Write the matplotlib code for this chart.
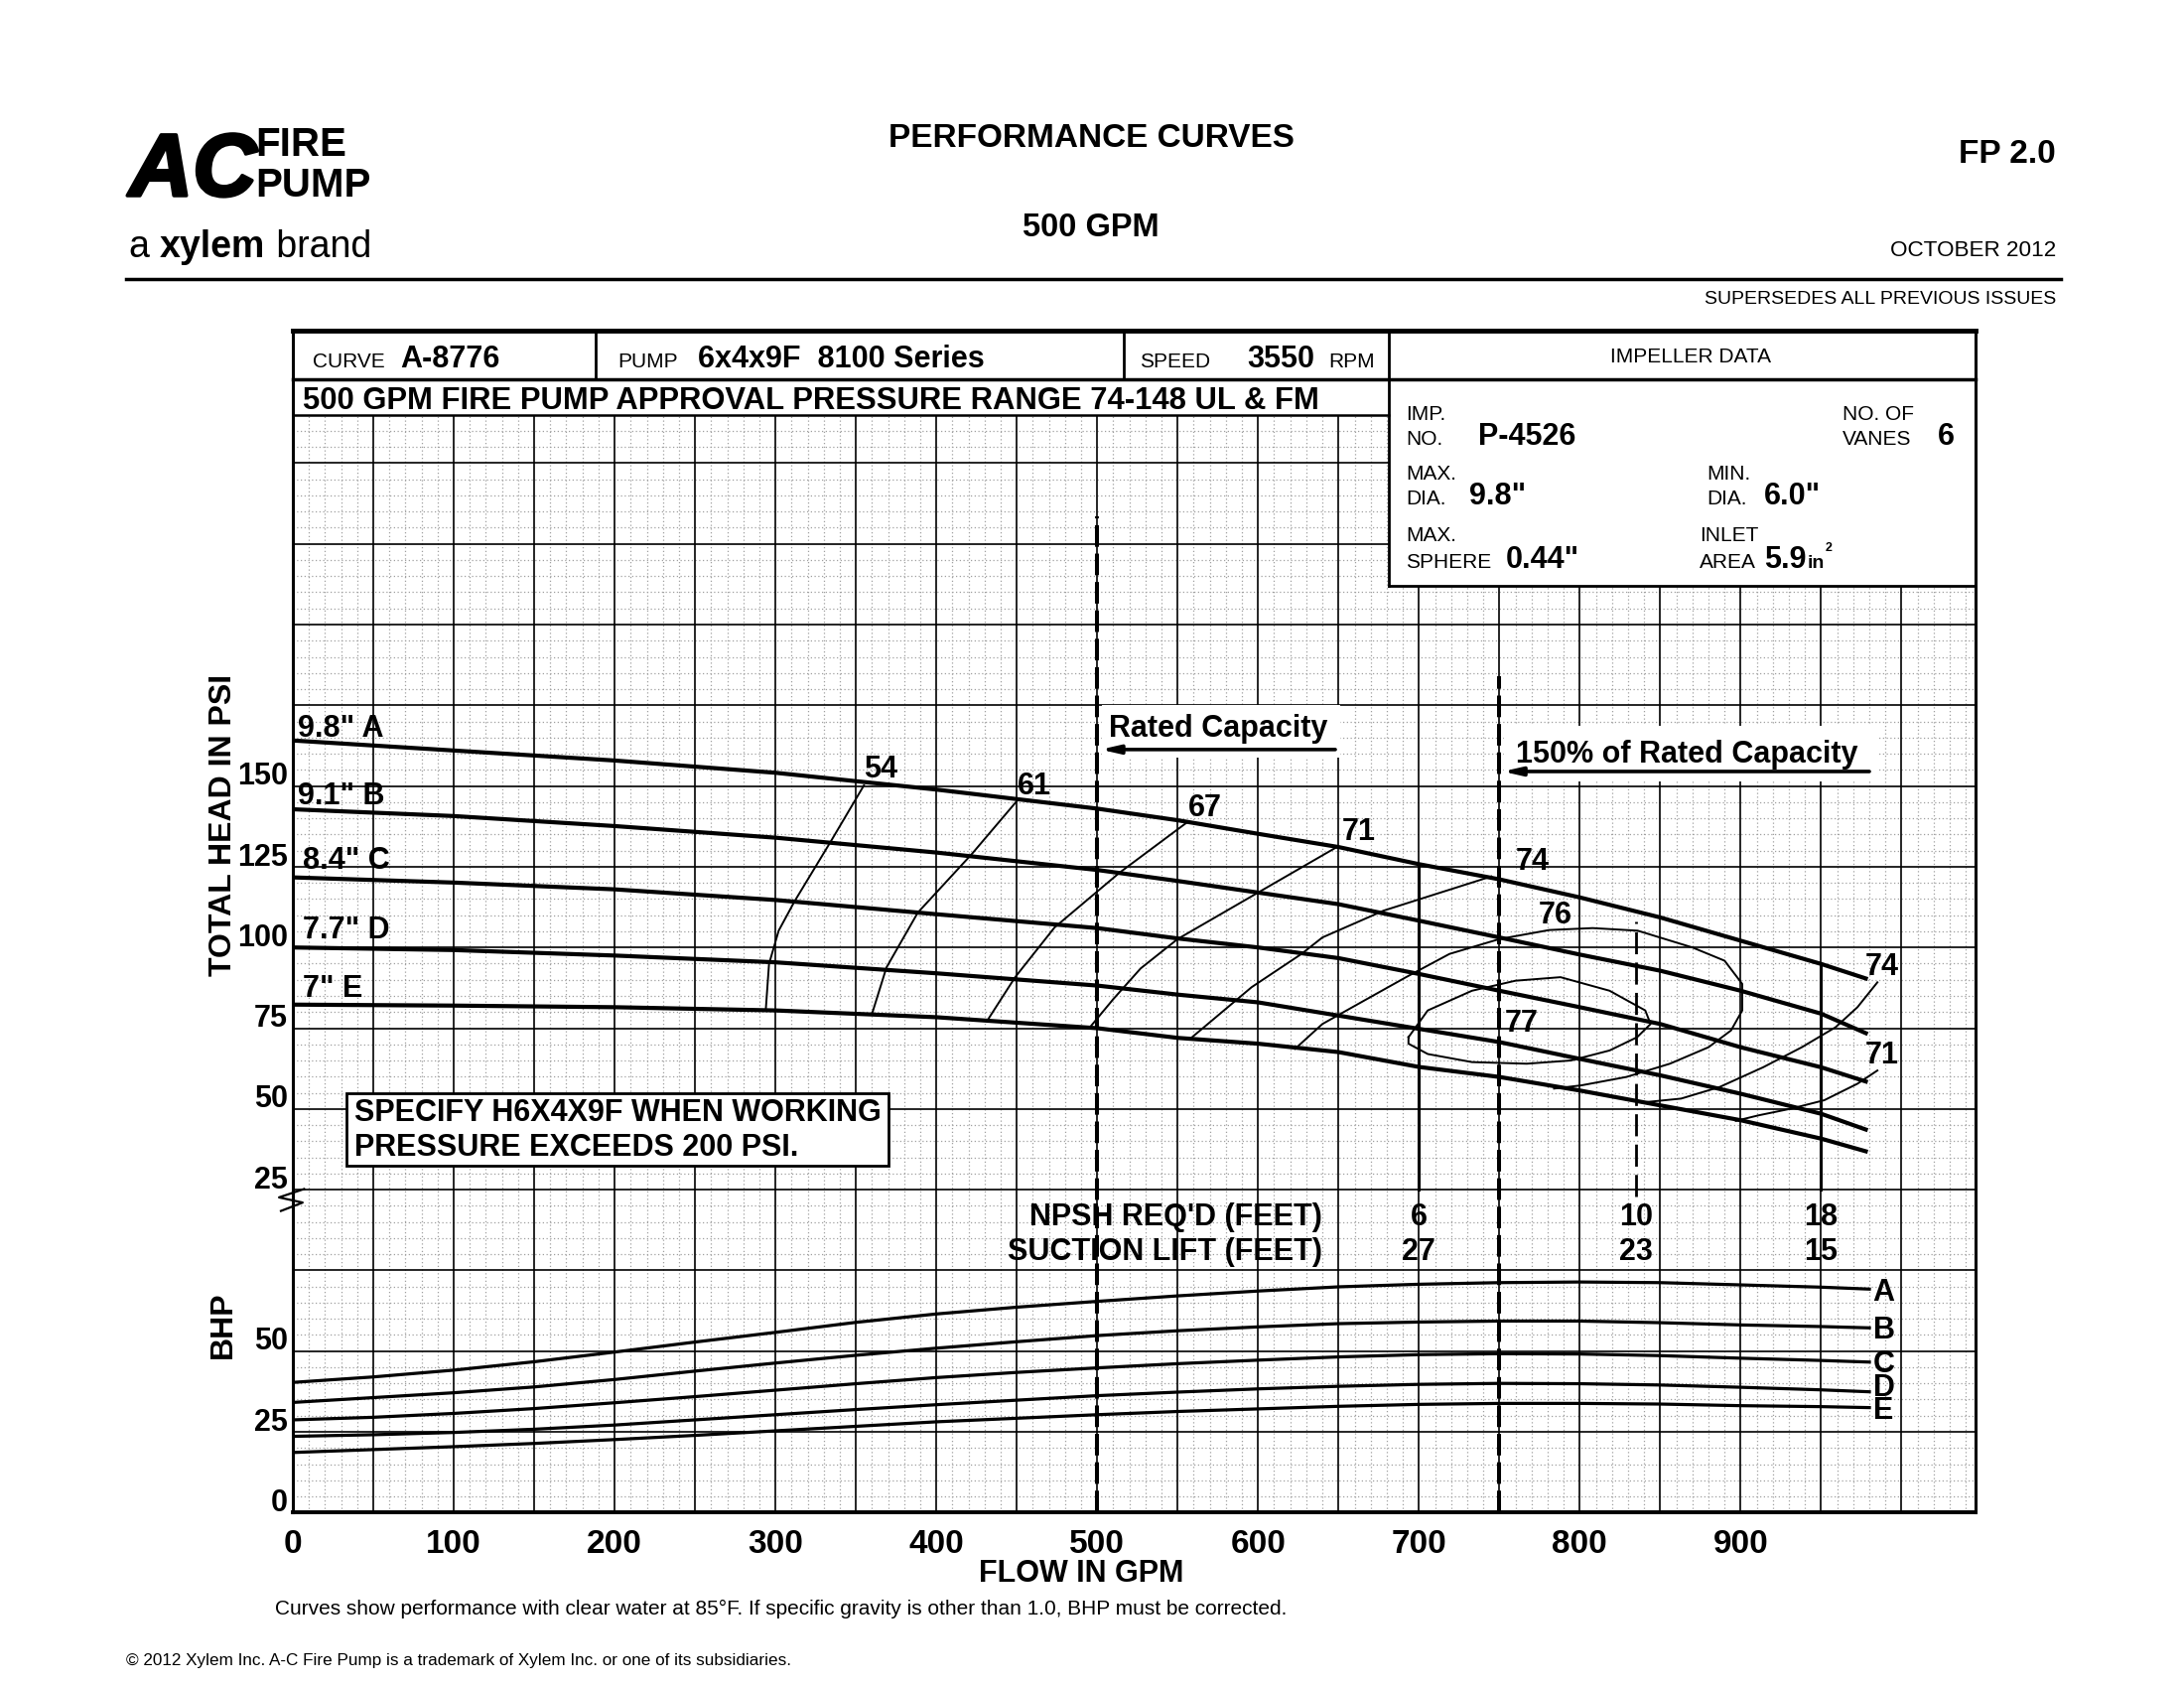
import matplotlib
matplotlib.use("Agg")
import matplotlib.pyplot as plt
import matplotlib.patheffects as pe
from matplotlib.lines import Line2D
from matplotlib.patches import Rectangle

# total head (psi) vs flow (gpm) for the five impeller diameters
flow = [0, 100, 200, 300, 400, 500, 550, 600, 650, 700, 750, 800, 850, 900, 950, 979]
head_a = [164.1, 161.0, 157.9, 154.1, 148.9, 143.0, 139.4, 135.2, 131.1, 125.8, 121.1, 115.5, 109.3, 102.1, 94.9, 90.2]
head_b = [142.8, 140.7, 137.6, 134.0, 129.4, 124.0, 120.6, 117.0, 113.4, 108.3, 103.1, 97.8, 92.8, 86.6, 79.5, 73.2]
head_c = [121.7, 120.1, 118.0, 114.7, 110.3, 106.0, 102.8, 100.0, 96.7, 91.8, 86.6, 81.5, 76.3, 69.1, 62.9, 58.3]
head_d = [100.0, 99.2, 97.5, 95.4, 92.0, 88.2, 85.4, 83.0, 78.9, 74.8, 70.7, 65.5, 60.4, 54.7, 48.5, 43.4]
head_e = [82.3, 82.0, 81.5, 80.5, 78.4, 75.0, 72.0, 70.2, 67.6, 63.0, 59.9, 55.7, 51.1, 46.5, 40.8, 36.7]
curve_names = ['9.8" A', '9.1" B', '8.4" C', '7.7" D', '7" E']

# efficiency lines (gpm, psi)
eff54_flow = [355, 334, 312, 302, 296, 294]
eff54_psi = [150.2, 132.5, 114.4, 105.2, 94.9, 80.8]
eff61_flow = [451, 422, 388.5, 369, 360]
eff61_psi = [145.9, 128.9, 110.8, 93.8, 79.4]
eff67_flow = [556, 514, 473.5, 449, 432]
eff67_psi = [138.8, 123.2, 106.2, 90.8, 77.6]
eff71_flow = [649, 600, 550, 527, 510, 495]
eff71_psi = [131.1, 117.0, 102.6, 93.5, 84.0, 75.0]
eff74_flow = [745, 678, 640, 627, 596, 558]
eff74_psi = [122.0, 111.4, 103.1, 98.0, 87.7, 71.8]
eff76_flow = [623, 640, 664, 692, 719, 750, 781, 808, 836, 870, 890, 901, 901, 894, 880, 856, 829, 801, 784]
eff76_psi = [68.6, 76.3, 83.0, 90.8, 98.0, 102.6, 105.4, 106.0, 105.2, 100.0, 95.9, 88.7, 80.5, 74.3, 69.1, 64.0, 59.9, 57.3, 56.3]
eff77_flow = [693.5, 705.5, 733, 760, 788, 818.5, 840.7, 844, 835.6, 818.5, 794.5, 767, 733, 705.5, 693.5, 693.5]
eff77_psi = [72.2, 80.5, 86.6, 89.7, 90.8, 86.6, 80.5, 76.3, 72.2, 68.1, 65.0, 64.0, 64.5, 67.0, 70.2, 72.2]
eff74r_flow = [985, 972.6, 959, 938, 914, 887, 863, 839]
eff74r_psi = [89.2, 81.5, 75.3, 69.1, 62.9, 56.8, 53.2, 52.0]
eff71r_flow = [985, 972.6, 952, 931.5, 911, 897]
eff71r_psi = [61.9, 57.8, 52.7, 50.1, 48.0, 46.3]
eff_labels = ["54", "61", "67", "71", "74", "76", "77", "74", "71"]

# brake horsepower
bhp_flow = [0, 50, 100, 150, 200, 250, 300, 350, 400, 450, 500, 550, 600, 650, 700, 750, 800, 850, 900, 950, 980]
bhp_a = [40.3, 42.0, 44.1, 46.7, 49.7, 52.8, 55.8, 58.9, 61.5, 63.6, 65.4, 67.1, 68.6, 69.9, 70.7, 71.2, 71.4, 71.2, 70.5, 69.8, 69.2]
bhp_b = [34.1, 35.6, 37.1, 38.9, 41.2, 43.8, 46.3, 48.7, 50.9, 52.9, 54.8, 56.3, 57.5, 58.5, 59.0, 59.3, 59.3, 58.8, 58.1, 57.6, 57.2]
bhp_c = [28.7, 29.5, 30.7, 32.2, 34.0, 35.9, 37.9, 39.9, 41.8, 43.4, 44.8, 46.1, 47.2, 48.2, 48.9, 49.2, 49.1, 48.6, 47.8, 47.1, 46.6]
bhp_d = [23.6, 24.1, 24.8, 25.8, 27.1, 28.7, 30.3, 31.9, 33.4, 34.8, 36.2, 37.3, 38.3, 39.1, 39.7, 40.0, 39.9, 39.5, 38.8, 38.0, 37.4]
bhp_e = [18.6, 19.5, 20.4, 21.4, 22.6, 23.9, 25.3, 26.7, 28.1, 29.2, 30.3, 31.3, 32.1, 32.9, 33.5, 33.8, 33.8, 33.6, 33.1, 32.8, 32.5]
bhp_names = ["A", "B", "C", "D", "E"]

npsh_flow = [700, 835, 950]
npsh_req = ["6", "10", "18"]
suction_lift = ["27", "23", "15"]

psi_ticks = [25, 50, 75, 100, 125, 150]
bhp_ticks = [0, 25, 50]
gpm_ticks = [0, 100, 200, 300, 400, 500, 600, 700, 800, 900]

PSI0 = 75  # psi scale sits 75 bhp-units up the same grid


def hy(vals):
    return [v + PSI0 for v in vals]


SANS = "Liberation Sans"
W, H = 2200, 1700
fig = plt.figure(figsize=(22, 17), dpi=100)
fig.patch.set_facecolor("white")
renderer = fig.canvas.get_renderer()


def ftext(px, py, s, size, bold=False, **kw):
    kw.setdefault("family", SANS)
    return fig.text(px / W, 1 - py / H, s, fontsize=size, fontweight="bold" if bold else "normal", **kw)


# page header / logo
ftext(130, 197, "AC", 64, True, style="italic", va="baseline",
      path_effects=[pe.withStroke(linewidth=2.5, foreground="k")])
ftext(257, 157, "FIRE", 29, True, va="baseline")
ftext(257, 198, "PUMP", 29, True, va="baseline")
x = 130
for word, bold in [("a ", False), ("xylem", True), (" brand", False)]:
    tx = ftext(x, 259, word, 27, bold, va="baseline")
    x += tx.get_window_extent(renderer).width
ftext(1099, 139, "PERFORMANCE CURVES", 24, True, ha="center", va="center")
ftext(1099, 229, "500 GPM", 23.5, True, ha="center", va="center")
ftext(2071, 155, "FP 2.0", 24, True, ha="right", va="center")
ftext(2071, 253, "OCTOBER 2012", 16.2, ha="right", va="center")
ftext(2071, 302, "SUPERSEDES ALL PREVIOUS ISSUES", 14, ha="right", va="center")
fig.add_artist(Line2D([127 / W, 2076 / W], [1 - 281 / H] * 2, lw=2.5, color="k"))
ftext(277, 1620, "Curves show performance with clear water at 85°F. If specific gravity is other than 1.0, "
      "BHP must be corrected.", 15, va="center")
ftext(127, 1672, "© 2012 Xylem Inc. A-C Fire Pump is a trademark of Xylem Inc. or one of its subsidiaries.",
      12.3, va="center")

# chart area: x in gpm, y in bhp units (psi = y - 75)
XMAX, YTOP, GRIDTOP = 1046, 366, 340
ax = fig.add_axes([295 / W, 1 - 1523.3 / H, 1695 / W, YTOP * 3.252 / H])
ax.set_xlim(0, XMAX)
ax.set_ylim(0, YTOP)
ax.axis("off")

minor = dict(color="#a0a0a0", lw=0.9, ls=(0, (1, 2)), zorder=1)
for gx in range(10, XMAX, 10):
    if gx % 50:
        ax.plot([gx, gx], [0, GRIDTOP], **minor)
for gy in range(5, GRIDTOP, 5):
    if gy % 25:
        ax.plot([0, XMAX], [gy, gy], **minor)
for gx in range(50, 1001, 50):
    ax.plot([gx, gx], [0, GRIDTOP], color="k", lw=1.2, zorder=2)
for gy in range(25, 326, 25):
    ax.plot([0, XMAX], [gy, gy], color="k", lw=1.2, zorder=2)

# header boxes
k = dict(color="k", zorder=6, clip_on=False)
ax.add_patch(Rectangle((0, GRIDTOP), XMAX, YTOP - GRIDTOP, fc="white", ec="none", zorder=5))
ax.add_patch(Rectangle((681, 287), XMAX - 681, YTOP - 287, fc="white", ec="none", zorder=5))
ax.plot([0, XMAX], [351, 351], lw=2.5, **k)
ax.plot([0, 681], [GRIDTOP, GRIDTOP], lw=1.8, **k)
ax.plot([681, 681], [287, YTOP], lw=2, **k)
ax.plot([681, XMAX], [287, 287], lw=2, **k)
ax.plot([188, 188], [351, YTOP], lw=2, **k)
ax.plot([516.5, 516.5], [351, YTOP], lw=2, **k)
ax.plot([0, 0, XMAX, XMAX], [0, YTOP, YTOP, 0], lw=2.2, **k)
ax.plot([0, XMAX], [YTOP, YTOP], lw=3.5, **k)
ax.plot([0, XMAX], [0, 0], lw=2.8, **k)


def t(x, y, s, size=22, bold=True, **kw):
    kw.setdefault("ha", "left")
    kw.setdefault("va", "baseline")
    kw.setdefault("family", SANS)
    kw.setdefault("zorder", 8)
    return ax.text(x, y, s, fontsize=size, fontweight="bold" if bold else "normal", clip_on=False, **kw)


def t_after(prev, dx, dy, s, size, bold=True):
    # place a text right after another one (same baseline + dy)
    bb = prev.get_window_extent(renderer)
    x1 = ax.transData.inverted().transform((bb.x1, bb.y0))[0]
    return t(x1 + dx, prev.get_position()[1] + dy, s, size, bold)


t(12.3, 354.5, "CURVE", 15, False)
t(66.9, 354.5, "A-8776")
t(201.7, 354.5, "PUMP", 15, False)
t(252, 354.5, "6x4x9F  8100 Series")
t(526.5, 354.5, "SPEED", 15, False)
t(593.5, 354.5, "3550")
t(643.5, 354.5, "RPM", 15, False)
t(869, 357.8, "IMPELLER DATA", 15, False, ha="center", va="center")
t(6, 341.6, "500 GPM FIRE PUMP APPROVAL PRESSURE RANGE 74-148 UL & FM", 22.3)

t(692, 338.3, "IMP.", 15, False)
t(692, 330.6, "NO.", 15, False)
t(737, 330.6, "P-4526")
t(963.5, 338.3, "NO. OF", 15, False)
t(963.5, 330.6, "VANES", 15, False)
t(1022.5, 330.6, "6")
t(692, 319.8, "MAX.", 15, False)
t(692, 312.1, "DIA.", 15, False)
t(731, 312.1, '9.8"')
t(879, 319.8, "MIN.", 15, False)
t(879, 312.1, "DIA.", 15, False)
t(914.5, 312.1, '6.0"')
t(692, 300.8, "MAX.", 15, False)
t(692, 292.6, "SPHERE", 15, False)
t(754, 292.6, '0.44"')
t(874.5, 300.8, "INLET", 15, False)
t(874.5, 292.6, "AREA", 15, False)
v59 = t(914.5, 292.6, "5.9")
v_in = t_after(v59, 0.5, 0, "in", 14)
t_after(v_in, 0.8, 5.2, "2", 9)

# axis labels and tick labels
for p in psi_ticks:
    t(-3, p + PSI0 + 0.4, str(p), 22, ha="right")
for b in bhp_ticks:
    t(-3, b + 0.4, str(b), 22, ha="right")
for g in gpm_ticks:
    t(g, -5, str(g), 24, ha="center", va="top")
t(-43, 213, "TOTAL HEAD IN PSI", 23, rotation=90, ha="center", va="center")
t(-43, 58, "BHP", 23, rotation=90, ha="center", va="center")
t(490, -19, "FLOW IN GPM", 22, ha="center", va="center")
ax.plot([7, -8.6, 6.1, -7.4], [100.2, 97.6, 96.0, 93.4], color="k", lw=1.6, clip_on=False, zorder=7)

# rated capacity markers
ax.plot([500, 500], [0, 308.5], color="k", lw=2.9, ls=(0, (5.4, 1.7)), zorder=4)
ax.plot([750, 750], [0, 259], color="k", lw=2.9, ls=(0, (5.4, 1.7)), zorder=4)
ax.add_patch(Rectangle((503, 233.7), 148, 16.3, fc="white", ec="none", zorder=3))
ax.add_patch(Rectangle((753, 226.5), 232, 17, fc="white", ec="none", zorder=3))
t(507, 240.3, "Rated Capacity")
t(760, 232.3, "150% of Rated Capacity")
arrow = dict(arrowstyle="-|>,head_length=1.1,head_width=0.25", lw=2.6, color="k", shrinkA=0, shrinkB=0)
ax.annotate("", xy=(502, 236.3), xytext=(648, 236.3), arrowprops=arrow, zorder=7)
ax.annotate("", xy=(752, 229.5), xytext=(980, 229.5), arrowprops=arrow, zorder=7)

# NPSH markers
ax.plot([700, 700], [100, 200], color="k", lw=2.2, zorder=4)
ax.plot([835, 835], [98, 183], color="k", lw=2.0, ls=(0, (8, 3)), zorder=4)
ax.plot([950, 950], [100, 170], color="k", lw=2.2, zorder=4)
t(640, 91.4, "NPSH REQ'D (FEET)", ha="right", va="center")
t(640, 80.7, "SUCTION LIFT (FEET)", ha="right", va="center")
for g, n, s in zip(npsh_flow, npsh_req, suction_lift):
    t(g, 91.4, n, ha="center", va="center")
    t(g, 80.7, s, ha="center", va="center")

# spec note
ax.add_patch(Rectangle((33.4, 107.5), 336.6, 22.5, fc="white", ec="k", lw=2, zorder=6))
t(38, 123.6, "SPECIFY H6X4X9F WHEN WORKING", va="center")
t(38, 112.8, "PRESSURE EXCEEDS 200 PSI.", va="center")

# head curves
for hv in [head_a, head_b, head_c, head_d, head_e]:
    ax.plot(flow, hy(hv), color="k", lw=3.0, solid_capstyle="butt", zorder=4)
for name, yb, xl in zip(curve_names, [240.4, 219.4, 199.4, 177.8, 159.6], [3, 3, 6, 6, 6]):
    t(xl, yb, name)

# efficiency lines
eff_lines = [(eff54_flow, eff54_psi), (eff61_flow, eff61_psi), (eff67_flow, eff67_psi),
             (eff71_flow, eff71_psi), (eff74_flow, eff74_psi), (eff76_flow, eff76_psi),
             (eff77_flow, eff77_psi), (eff74r_flow, eff74r_psi), (eff71r_flow, eff71r_psi)]
for fx, py in eff_lines:
    ax.plot(fx, hy(py), color="k", lw=1.4, zorder=4)
eff_pos = [(365.5, 155.0), (461, 149.8), (567, 143.1), (662.7, 135.6), (770.5, 126.4),
           (785, 110.0), (763.7, 76.4), (988, 93.8), (988, 66.4)]
for lab, (gx, gp) in zip(eff_labels, eff_pos):
    t(gx, gp + PSI0, lab, ha="center", va="center")

# bhp curves
for bv in [bhp_a, bhp_b, bhp_c, bhp_d, bhp_e]:
    ax.plot(bhp_flow, bv, color="k", lw=2.3, zorder=4)
for name, yc in zip(bhp_names, [68.2, 56.4, 45.8, 38.6, 31.6]):
    t(989, yc, name, ha="center", va="center")

fig.savefig("out.png", dpi=100, facecolor="white")
